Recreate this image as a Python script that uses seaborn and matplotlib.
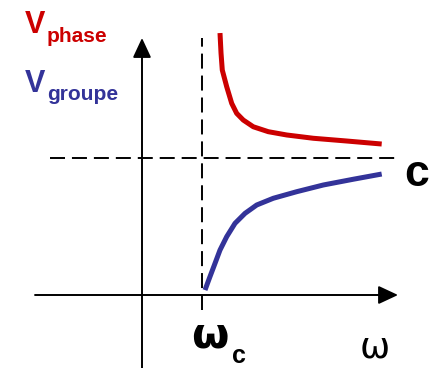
import matplotlib
matplotlib.use("Agg")
import matplotlib.pyplot as plt
import seaborn as sns
import pandas as pd

# ---- data (units: omega in omega_c, velocity in c) ----
omega_phase = [1.300, 1.317, 1.338, 1.412, 1.495, 1.578, 1.688, 1.855, 2.105, 2.412, 2.855, 3.412, 3.995]
v_phase     = [1.912, 1.766, 1.642, 1.520, 1.399, 1.326, 1.277, 1.228, 1.192, 1.168, 1.144, 1.124, 1.102]
omega_group = [1.050, 1.133, 1.217, 1.300, 1.412, 1.550, 1.717, 1.912, 2.188, 2.578, 3.022, 3.522, 3.995]
v_group     = [0.036, 0.134, 0.231, 0.328, 0.426, 0.523, 0.596, 0.657, 0.706, 0.754, 0.803, 0.845, 0.883]
omega_c = 1.0
c_level = 1.0
labels = {"phase": ("V", "phase"), "group": ("V", "groupe")}
RED = "#CC0000"
BLUE = "#333399"

sns.set_theme(style="white")
plt.rcParams["lines.scale_dashes"] = False

W, H = 432, 368
fig = plt.figure(figsize=(W / 100, H / 100), dpi=100)
ax = fig.add_axes([0, 0, 1, 1])
ax.set_xlim(-142 / 60, (W - 142) / 60)
ax.set_ylim((295 - H) / 137, 295 / 137)
ax.axis("off")

df_p = pd.DataFrame({"omega": omega_phase, "v": v_phase})
df_g = pd.DataFrame({"omega": omega_group, "v": v_group})
sns.lineplot(data=df_p, x="omega", y="v", ax=ax, color=RED, lw=3.6,
             solid_capstyle="butt", solid_joinstyle="round", sort=False, estimator=None)
sns.lineplot(data=df_g, x="omega", y="v", ax=ax, color=BLUE, lw=3.6,
             solid_capstyle="butt", solid_joinstyle="round", sort=False, estimator=None)

# dashed guides
dash = (0, (10.8, 5.0))
ax.plot([omega_c, omega_c], [-0.109, 1.876], color="black", lw=1.4, ls=dash)
ax.plot([-1.533, 4.217], [c_level, c_level], color="black", lw=1.4, ls=dash)

# axes arrows
arrow = dict(arrowstyle="-|>,head_length=1.2,head_width=0.56", lw=1.4,
             color="black", shrinkA=0, shrinkB=0, mutation_scale=10)
ax.annotate("", xy=(4.267, 0), xytext=(-1.783, 0), arrowprops=arrow)
ax.annotate("", xy=(0, 1.876), xytext=(0, -0.6), arrowprops=arrow)

def ptext(px, py, s, **kw):
    fig.text(px / W, 1 - py / H, s, va="baseline", ha="left", **kw)

FONT = "Liberation Sans"
ptext(25, 33, labels["phase"][0], color=RED, fontsize=22, fontweight="bold", family=FONT)
ptext(47, 42, labels["phase"][1], color=RED, fontsize=15, fontweight="bold", family=FONT)
ptext(25, 92, labels["group"][0], color=BLUE, fontsize=22, fontweight="bold", family=FONT)
ptext(47, 100, labels["group"][1], color=BLUE, fontsize=15, fontweight="bold", family=FONT)

ptext(404, 186, "c", color="black", fontsize=32, fontweight="bold", family=FONT)
ptext(191, 347, "ω", color="black", fontsize=31, fontweight="bold", family="DejaVu Sans")
ptext(232, 363, "c", color="black", fontsize=18, fontweight="bold", family=FONT)
ptext(360, 358, "ω", color="black", fontsize=26, family="DejaVu Sans")

fig.savefig("out.png", dpi=100)
